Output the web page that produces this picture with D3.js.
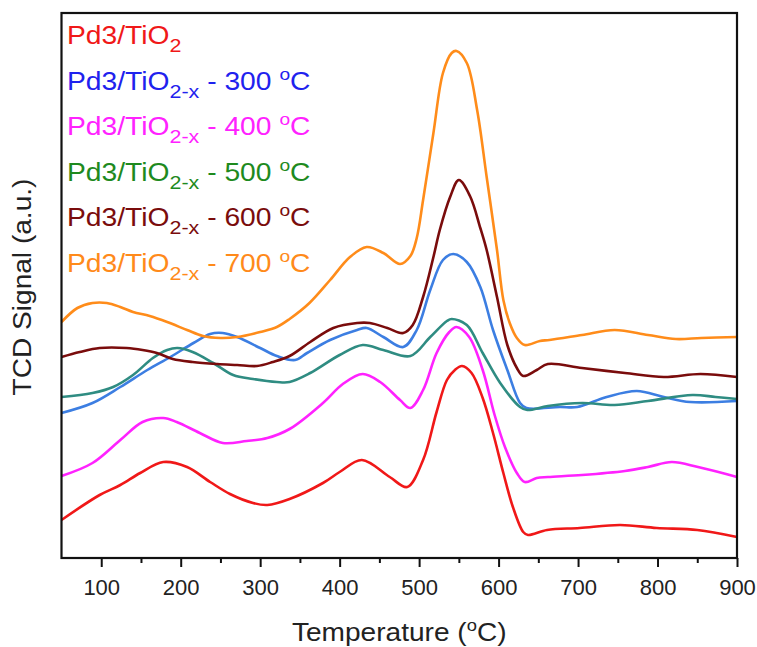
<!DOCTYPE html>
<html>
<head>
<meta charset="utf-8">
<script src="https://cdn.jsdelivr.net/npm/d3@7"></script>
<style>
    body { margin: 0; background: #fff; }
    text { font-family: "Liberation Sans", Arial, sans-serif; }
</style>
</head>
<body>
<div id="wrapper"></div>
<script>
// TPR traces, [temperature (°C), signal (a.u.)]
const pdTiO2 = [[50,38],[98,63],[124,73],[149,85],[178,96],[208,91],[237,76],[262,64],[291,55],[309,53],[337,59],[379,75],[400,86],[428,98],[463,81],[485,71],[505,98],[522,146],[535,178],[545,188],[554,192],[566,185],[580,160],[593,125],[606,85],[618,51],[631,26],[637,23],[661,28],[702,30],[753,33],[799,30],[850,28],[900,21]];
const tiO2x300 = [[50,145],[89,155],[124,171],[158,188],[187,201],[216,215],[237,224],[253,225],[271,221],[300,210],[321,202],[344,198],[359,205],[388,218],[422,228],[434,230],[455,221],[480,211],[497,228],[514,268],[530,298],[543,304],[560,296],[577,271],[593,228],[611,188],[627,155],[635,150],[677,151],[699,151],[736,161],[774,167],[808,161],[841,156],[900,157]];
const tiO2x400 = [[50,82],[89,95],[124,118],[152,136],[178,140],[195,136],[224,125],[253,115],[283,117],[309,120],[337,129],[379,155],[404,174],[429,184],[451,176],[476,158],[489,150],[505,168],[522,205],[538,226],[547,231],[563,221],[580,188],[595,143],[608,111],[623,85],[633,76],[648,80],[662,81],[705,83],[759,87],[788,91],[818,96],[851,91],[900,81]];
const tiO2x500 = [[50,161],[89,165],[115,171],[140,183],[165,200],[183,208],[196,210],[215,206],[241,195],[266,183],[291,179],[321,176],[337,176],[363,185],[400,203],[429,213],[455,208],[489,202],[514,221],[535,237],[541,239],[560,233],[580,205],[602,175],[627,151],[636,148],[662,152],[705,155],[746,153],[788,157],[844,163],[873,161],[900,159]];
const tiO2x600 = [[50,201],[73,206],[98,210],[132,210],[152,208],[170,205],[190,199],[215,196],[246,194],[271,193],[296,192],[316,196],[337,202],[363,216],[392,230],[422,235],[438,235],[460,230],[480,225],[492,233],[505,261],[518,301],[526,328],[539,361],[550,378],[564,362],[577,330],[585,308],[598,261],[611,213],[623,190],[631,182],[648,188],[662,194],[705,190],[759,185],[808,181],[854,184],[900,181]];
const tiO2x700 = [[50,236],[70,250],[89,255],[107,255],[124,251],[140,246],[161,242],[183,236],[208,228],[228,222],[250,220],[271,221],[300,226],[321,231],[337,239],[362,255],[388,278],[413,301],[434,311],[455,305],[476,294],[489,302],[497,320],[505,358],[518,425],[530,485],[541,505],[547,507],[560,495],[573,448],[585,381],[598,308],[606,258],[614,235],[623,220],[633,213],[652,217],[664,218],[705,223],[746,228],[788,223],[823,219],[855,220],[900,221]];

const series = [pdTiO2, tiO2x300, tiO2x400, tiO2x500, tiO2x600, tiO2x700];
const lineColors = ["#f01818", "#3c7ee2", "#ff22ff", "#2f8c82", "#7a0c0c", "#ff8c1a"];
const labelColors = ["#f01818", "#1f22ee", "#ff22ff", "#1e8a1e", "#7a0c0c", "#ff8a1a"];
const calcTemps = [null, 300, 400, 500, 600, 700];
const majorTicks = [100, 200, 300, 400, 500, 600, 700, 800, 900];
const minorTicks = [150, 250, 350, 450, 550, 650, 750, 850];
// draw order: back to front
const drawOrder = [0, 2, 1, 3, 4, 5];

const dims = { width: 757, height: 647, left: 61.5, right: 737, top: 13, bottom: 558 };

const svg = d3.select("#wrapper").append("svg")
    .attr("width", dims.width)
    .attr("height", dims.height);

const xScale = d3.scaleLinear().domain([50, 900]).range([dims.left, dims.right]);
const yScale = d3.scaleLinear().domain([0, 545]).range([dims.bottom, dims.top]);

const line = d3.line()
    .x(d => xScale(d[0]))
    .y(d => yScale(d[1]))
    .curve(d3.curveCatmullRom.alpha(0.5));

const plot = svg.append("g");
plot.selectAll("path.trace")
    .data(drawOrder)
    .join("path")
    .attr("class", "trace")
    .attr("d", i => line(series[i]))
    .attr("fill", "none")
    .attr("stroke", i => lineColors[i])
    .attr("stroke-width", 2.6)
    .attr("stroke-linejoin", "round");

// axes
const xAxis = d3.axisBottom(xScale).tickValues(majorTicks).tickSize(9).tickSizeOuter(0).tickPadding(12);
const xMinor = d3.axisBottom(xScale).tickValues(minorTicks).tickSize(5).tickSizeOuter(0).tickFormat("");

const gx = svg.append("g").attr("transform", `translate(0,${dims.bottom})`).call(xAxis);
gx.select(".domain").remove();
gx.selectAll(".tick line").attr("stroke", "#111").attr("stroke-width", 2);
gx.selectAll(".tick text")
    .attr("fill", "#222")
    .style("font-size", "22px");

const gm = svg.append("g").attr("transform", `translate(0,${dims.bottom})`).call(xMinor);
gm.select(".domain").remove();
gm.selectAll(".tick line").attr("stroke", "#111").attr("stroke-width", 2);

// frame
svg.append("rect")
    .attr("x", dims.left)
    .attr("y", dims.top)
    .attr("width", dims.right - dims.left)
    .attr("height", dims.bottom - dims.top)
    .attr("fill", "none")
    .attr("stroke", "#111")
    .attr("stroke-width", 2.2);

// axis titles
const xt = svg.append("text")
    .attr("transform", `translate(${(dims.left + dims.right) / 2},641) scale(1.08,1)`)
    .attr("text-anchor", "middle")
    .attr("fill", "#222")
    .style("font-size", "26px");
xt.append("tspan").text("Temperature (");
xt.append("tspan").attr("dy", -10).style("font-size", "17px").text("o");
xt.append("tspan").attr("dy", 10).text("C)");

svg.append("text")
    .attr("transform", "translate(31,287) rotate(-90) scale(1.08,1)")
    .attr("text-anchor", "middle")
    .attr("fill", "#222")
    .style("font-size", "26px")
    .text("TCD Signal (a.u.)");

// legend
const legend = svg.append("g");
series.forEach((s, i) => {
    const t = legend.append("text")
        .attr("transform", `translate(67,${44 + i * 45.6}) scale(1.13,1)`)
        .attr("fill", labelColors[i])
        .style("font-size", "25px");
    t.append("tspan").text("Pd3/TiO");
    t.append("tspan").attr("dy", 8).style("font-size", "19px").text(calcTemps[i] ? "2-x" : "2");
    if (calcTemps[i]) {
        t.append("tspan").attr("dy", -8).text(` - ${calcTemps[i]} `);
        t.append("tspan").attr("dy", -10).style("font-size", "17px").text("o");
        t.append("tspan").attr("dy", 10).text("C");
    }
});
</script>
</body>
</html>
